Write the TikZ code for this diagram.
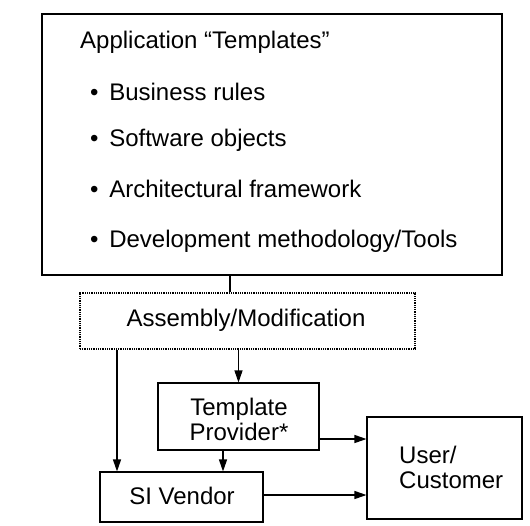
\documentclass[tikz,border=0pt]{standalone}
\usepackage{fontspec}
\setmainfont{Liberation Sans}
\usetikzlibrary{arrows.meta}
\begin{document}
\begin{tikzpicture}[x=1pt,y=-1pt,
  box/.style={draw,line width=1.1pt,inner sep=0pt},
  dotbox/.style={draw,line width=1.9pt,dash pattern=on 0.9pt off 0.9pt,inner sep=0pt},
  txt/.style={font=\fontsize{24}{25}\selectfont,inner sep=0pt},
  line/.style={line width=1.1pt},
  arr/.style={line width=1.1pt,-{Triangle[length=12pt,width=8pt]}}]
\useasboundingbox (0,0) rectangle (530,525);
% boxes
\node[box,minimum width=460pt,minimum height=261pt] (top) at (272,144.5) {};
\node[dotbox,minimum width=335pt,minimum height=56pt] (asm) at (247.5,321) {};
\node[box,minimum width=161pt,minimum height=67pt] (tp) at (238.5,416.5) {};
\node[box,minimum width=163pt,minimum height=50pt] (si) at (181.5,497) {};
\node[box,minimum width=155pt,minimum height=102pt] (user) at (444.5,468) {};
% texts
\node[txt,anchor=west] (title) at (80,42) {Application “Templates”};
\node[txt,anchor=west] (b1) at (90,92) {• \,Business rules};
\node[txt,anchor=west] (b2) at (90,140) {• \,Software objects};
\node[txt,anchor=west] (b3) at (90,189) {• \,Architectural framework};
\node[txt,anchor=west] (b4) at (90,241) {• \,Development methodology/Tools};
\node[txt] (asmt) at (246,320) {Assembly/Modification};
\node[txt,align=center] (tpt) at (239,419) {Template\\Provider*};
\node[txt] (sit) at (182,496) {SI Vendor};
\node[txt,align=left,anchor=west] (usert) at (399,467) {User/\\Customer};
% connectors
\coordinate (c1) at (230,0);
\coordinate (c2) at (117,0);
\coordinate (c3) at (223,0);
\coordinate (c4) at (0,439);
\coordinate (c5) at (0,495);
\draw[line] (top.south -| c1) -- (asm.north -| c1);
\draw[arr] (asm.south -| tp.north) -- (tp.north);
\draw[arr] (asm.south -| c2) -- (si.north -| c2);
\draw[arr] (tp.south -| c3) -- (si.north -| c3);
\draw[arr] (tp.east |- c4) -- (user.west |- c4);
\draw[arr] (si.east |- c5) -- (user.west |- c5);
\end{tikzpicture}
\end{document}
